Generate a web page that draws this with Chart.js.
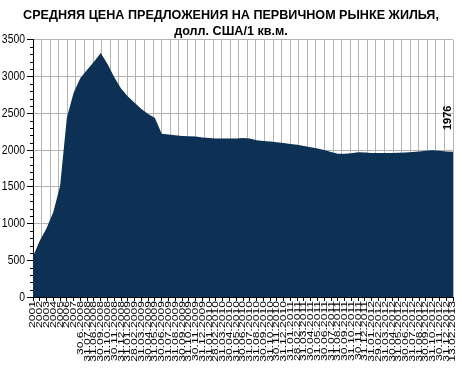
<!DOCTYPE html>
<html>
<head>
<meta charset="utf-8">
<script src="https://cdn.jsdelivr.net/npm/chart.js@4/dist/chart.umd.min.js"></script>
<style>
  html, body { margin: 0; padding: 0; background: #fff; }
  canvas { display: block; }
</style>
</head>
<body>
<canvas id="priceChart" width="462" height="371"></canvas>
<script>
const titleLines = [
  'СРЕДНЯЯ ЦЕНА ПРЕДЛОЖЕНИЯ НА ПЕРВИЧНОМ РЫНКЕ ЖИЛЬЯ,',
  'долл. США/1 кв.м.'
];

const years = ['2001', '2002', '2003', '2004', '2005', '2006', '2007'];

const dates = [
  '30.6.2008', '31.07.2008', '31.08.2008', '30.09.2008', '31.10.2008', '30.11.2008', '31.12.2008',
  '31.01.2009', '28.02.2009', '31.03.2009', '30.04.2009', '31.05.2009', '30.06.2009',
  '31.07.2009', '31.08.2009', '30.09.2009', '31.10.2009', '30.11.2009', '31.12.2009',
  '31.01.2010', '28.02.2010', '31.03.2010', '30.04.2010', '31.05.2010', '30.06.2010',
  '31.07.2010', '31.08.2010', '30.09.2010', '31.10.2010', '30.11.2010', '31.12.2010',
  '31.01.2011', '28.02.2011', '31.03.2011', '30.04.2011', '31.05.2011', '30.06.2011',
  '31.07.2011', '31.08.2011', '30.09.2011', '31.10.2011', '30.11.2011', '31.12.2011',
  '31.01.2012', '29.02.2012', '31.03.2012', '30.04.2012', '31.05.2012', '30.06.2012',
  '31.07.2012', '31.08.2012', '30.09.2012', '31.10.2012', '30.11.2012', '31.12.2012',
  '13.02.2013'
];

const prices = [
  550, 767, 935, 1157, 1510, 2443, 2780,
  2980, 3091, 3202, 3320, 3169, 2989, 2836, 2727, 2643, 2559, 2490, 2435, 2222,
  2212, 2200, 2190, 2187, 2183, 2170, 2165, 2158, 2155, 2155, 2155, 2162, 2157,
  2132, 2124, 2117, 2105, 2094, 2083, 2071, 2055, 2038, 2019, 1999, 1973, 1950,
  1950, 1957, 1969, 1965, 1958, 1958, 1958, 1960, 1962, 1965, 1972, 1980, 1989,
  1995, 1990, 1980, 1976
];

const lastValueLabel = '1976';

const labels = years.concat(dates);

const majorStep = 500;
const minorStep = 100;

// value label over the last point
const lastValuePlugin = {
  id: 'lastValue',
  afterDatasetsDraw(chart) {
    const meta = chart.getDatasetMeta(0);
    const pt = meta.data[meta.data.length - 1];
    const ctx = chart.ctx;
    ctx.save();
    ctx.translate(pt.x - 5, pt.y - 34);
    ctx.rotate(-Math.PI / 2);
    ctx.font = 'bold 11px "Liberation Sans", Arial, sans-serif';
    ctx.fillStyle = '#000';
    ctx.textAlign = 'center';
    ctx.textBaseline = 'middle';
    ctx.fillText(lastValueLabel, 0, 0);
    ctx.restore();
  }
};

// condensed tick labels and minor ticks, as in the old Excel chart
const axisLabelPlugin = {
  id: 'axisLabels',
  afterDraw(chart) {
    const ctx = chart.ctx;
    const ys = chart.scales.y;
    const xs = chart.scales.x;
    ctx.save();
    ctx.fillStyle = '#000';
    ctx.strokeStyle = '#000';
    ctx.lineWidth = 1;

    for (let v = ys.min + minorStep; v < ys.max; v += minorStep) {
      if (v % majorStep === 0) continue;
      const py = Math.round(ys.getPixelForValue(v)) + 0.5;
      ctx.beginPath();
      ctx.moveTo(ys.right - 3, py);
      ctx.lineTo(ys.right, py);
      ctx.stroke();
    }

    ctx.font = '13px "Liberation Sans", Arial, sans-serif';
    ctx.textAlign = 'right';
    ctx.textBaseline = 'middle';
    ys.ticks.forEach(t => {
      ctx.save();
      ctx.translate(ys.right - 8, ys.getPixelForValue(t.value));
      ctx.scale(0.8, 1);
      ctx.fillText(String(t.value), 0, 0);
      ctx.restore();
    });

    ctx.font = '9px "Liberation Sans", Arial, sans-serif';
    xs.ticks.forEach((t, i) => {
      ctx.save();
      ctx.translate(xs.getPixelForTick(i), xs.top + 4);
      ctx.rotate(-Math.PI / 2);
      ctx.scale(1.35, 1);
      ctx.fillText(labels[i], 0, 0);
      ctx.restore();
    });
    ctx.restore();
  }
};

const gridGray = '#b4b4b4';

new Chart(document.getElementById('priceChart'), {
  type: 'line',
  data: {
    labels: labels,
    datasets: [{
      data: prices,
      xAxisID: 'x',
      yAxisID: 'y',
      fill: 'origin',
      backgroundColor: '#0c3154',
      borderWidth: 0,
      pointRadius: 0,
      tension: 0
    }]
  },
  options: {
    responsive: false,
    animation: false,
    layout: { padding: { left: 9, right: 9, top: 0, bottom: 0 } },
    plugins: {
      legend: { display: false },
      tooltip: { enabled: false },
      title: {
        display: true,
        text: titleLines,
        color: '#000',
        font: { family: '"Liberation Sans", Arial, sans-serif', size: 12.6, weight: 'bold', lineHeight: 1.3 },
        padding: { top: 7, bottom: 0 }
      }
    },
    scales: {
      x: {
        type: 'category',
        offset: false,
        grid: { drawOnChartArea: false, tickLength: 4, tickColor: '#000' },
        border: { color: '#000' },
        ticks: { display: false, autoSkip: false },
        afterFit: s => { s.height = 74; }
      },
      g: {
        type: 'linear',
        position: 'top',
        min: 0,
        max: 49,
        ticks: { display: false, stepSize: 1, maxTicksLimit: 100 },
        grid: { color: gridGray, drawTicks: false },
        border: { display: false },
        afterFit: s => { s.height = 0; }
      },
      y: {
        min: 0,
        max: 3500,
        ticks: { display: false, stepSize: majorStep },
        grid: { color: gridGray, tickColor: '#000', tickLength: 6 },
        border: { color: '#000' },
        afterFit: s => { s.width = 24; }
      }
    }
  },
  plugins: [lastValuePlugin, axisLabelPlugin]
});
</script>
</body>
</html>
